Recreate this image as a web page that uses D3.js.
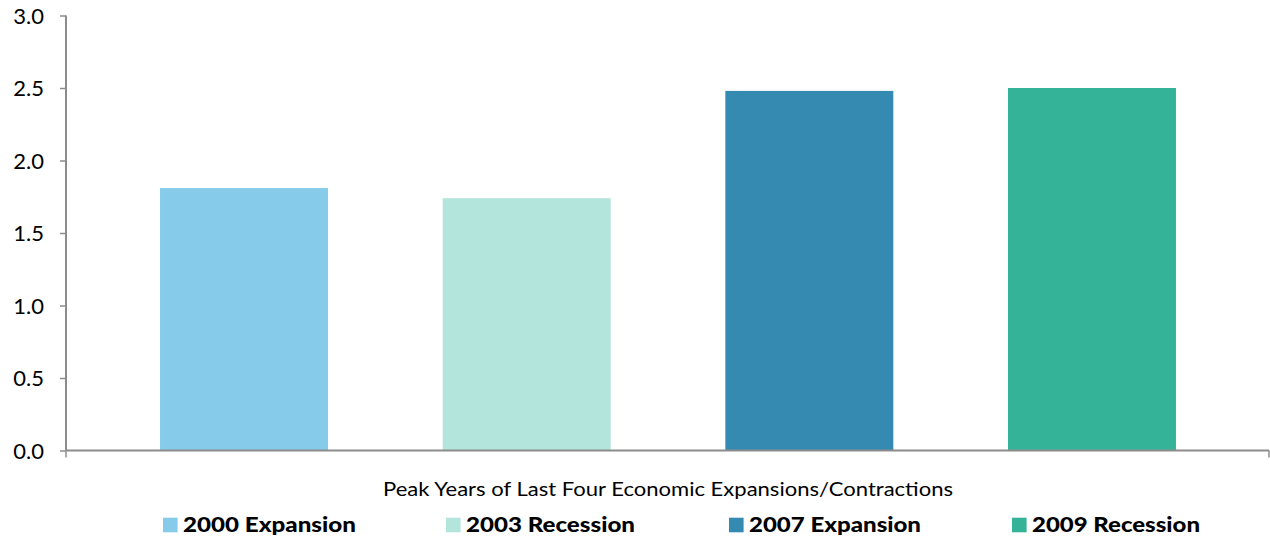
<!DOCTYPE html>
<html>
<head>
<meta charset="utf-8">
<script src="https://cdn.jsdelivr.net/npm/d3@7"></script>
<style>
  html, body { margin: 0; padding: 0; background: #fff; }
  svg { display: block; }
  text { font-family: Lato, "Open Sans", sans-serif; }
</style>
</head>
<body>
<svg id="chart" width="1270" height="538"></svg>
<script>
const categories = ["2000 Expansion", "2003 Recession", "2007 Expansion", "2009 Recession"];
const values = [1.81, 1.74, 2.48, 2.50];
const colors = ["#87cbea", "#b3e5dc", "#348ab1", "#35b398"];
const yTicks = [0, 0.5, 1.0, 1.5, 2.0, 2.5, 3.0];
const xTitle = "Peak Years of Last Four Economic Expansions/Contractions";
const legendWidths = [173, 169, 172, 168];

const svg = d3.select("#chart");
const axisColor = "#8c8c8c";

const y = d3.scaleLinear().domain([0, 3]).range([450.5, 15.5]);
const x = d3.scaleBand().domain(categories).range([102.7, 1233.3])
  .paddingInner(0.4057).paddingOuter(0.4057 / 2);

// bars
svg.append("g").selectAll("rect").data(categories).join("rect")
  .attr("x", d => x(d))
  .attr("width", x.bandwidth())
  .attr("y", (d, i) => y(values[i]))
  .attr("height", (d, i) => y(0) - y(values[i]))
  .attr("fill", (d, i) => colors[i]);

// y axis
const yAxis = d3.axisLeft(y).tickValues(yTicks).tickFormat(d3.format(".1f"))
  .tickSize(6).tickPadding(16);
const gy = svg.append("g").attr("transform", "translate(66,0)").call(yAxis);
gy.select(".domain").attr("stroke", axisColor).attr("stroke-width", 2)
  .attr("d", `M0,${y(3)}V${y(0)}`);
gy.selectAll(".tick line").attr("stroke", axisColor).attr("stroke-width", 1.5);
gy.selectAll(".tick text").attr("fill", "#000").style("font-size", "22px")
  .style("font-family", "Lato, 'Open Sans', sans-serif").attr("dy", "0.36em");

// x axis line
const xEdge = d3.scaleLinear().domain([0, 1]).range([66, 1269]);
const gx = svg.append("g");
gx.append("path")
  .attr("d", `M${xEdge(0)},${y(0)}H${xEdge(1)}`)
  .attr("stroke", axisColor).attr("stroke-width", 2).attr("fill", "none");
gx.selectAll("line").data([0, 1]).join("line")
  .attr("x1", d => xEdge(d)).attr("x2", d => xEdge(d))
  .attr("y1", y(0)).attr("y2", y(0) + 7)
  .attr("stroke", axisColor).attr("stroke-width", 1.5);

// x title
svg.append("text")
  .attr("x", 383).attr("y", 496)
  .attr("textLength", 570).attr("lengthAdjust", "spacingAndGlyphs")
  .style("font-size", "19.5px").attr("fill", "#000")
  .text(xTitle);

// legend
const lg = svg.append("g").selectAll("g").data(categories).join("g")
  .attr("transform", (d, i) => `translate(${163 + i * 283},0)`);
lg.append("rect").attr("x", 0).attr("y", 517.7).attr("width", 14.6).attr("height", 14.6)
  .attr("fill", (d, i) => colors[i]);
lg.append("text").attr("x", 20).attr("y", 532.3)
  .attr("textLength", (d, i) => legendWidths[i]).attr("lengthAdjust", "spacingAndGlyphs")
  .style("font-size", "21px").style("font-weight", "900").attr("fill", "#000")
  .text(d => d);
</script>
</body>
</html>
